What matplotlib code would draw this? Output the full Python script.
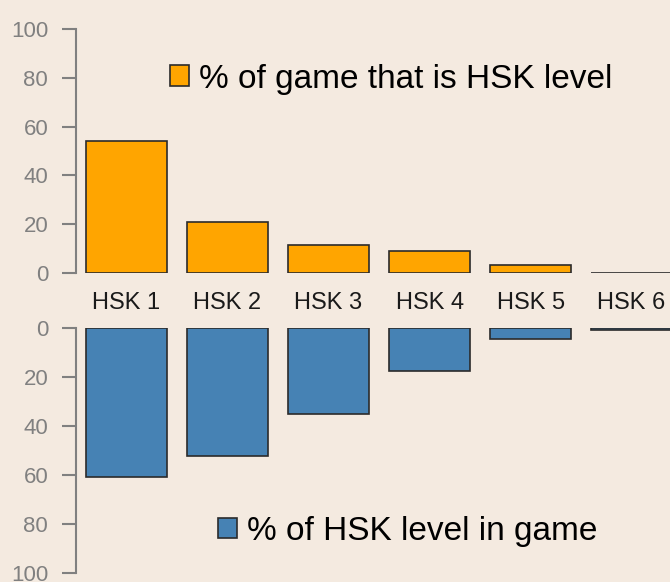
import matplotlib.pyplot as plt
from matplotlib.patches import Patch

# data
levels = ["HSK 1", "HSK 2", "HSK 3", "HSK 4", "HSK 5", "HSK 6"]
pct_of_game = [54.1, 20.9, 11.5, 9.0, 3.3, 0.15]
pct_of_level = [60.8, 52.2, 35.1, 17.6, 4.5, 0.8]

bg = "#f4eae0"
orange = "#ffa500"
blue = "#4682b4"
edge = "#2b2b2b"
grey = "#808080"

plt.rcParams['font.family'] = ['Liberation Sans', 'DejaVu Sans']

fig = plt.figure(figsize=(6.7, 5.82), dpi=100, facecolor=bg)
ax1 = fig.add_axes([0.1134, 0.5309, 0.8866, 0.4192], facecolor=bg)
ax2 = fig.add_axes([0.1134, 0.0155, 0.8866, 0.4210], facecolor=bg)

x = list(range(len(levels)))
ax1.bar(x, pct_of_game, width=0.8, color=orange, edgecolor=edge, linewidth=1.2)
ax2.bar(x, pct_of_level, width=0.8, color=blue, edgecolor=edge, linewidth=1.2)

for ax in (ax1, ax2):
    ax.set_xlim(-0.5, 5.38)
    for s in ("top", "right", "bottom"):
        ax.spines[s].set_visible(False)
    ax.spines["left"].set_color(grey)
    ax.spines["left"].set_linewidth(1.5)
    ax.set_yticks([0, 20, 40, 60, 80, 100])
    ax.tick_params(axis="y", length=10, width=1.5, color=grey, pad=10,
                   labelsize=16, labelcolor=grey)

ax1.set_ylim(0, 100)
ax2.set_ylim(100, 0)

ax1.set_xticks(x, levels)
ax1.tick_params(axis="x", length=0, pad=14, labelsize=17, labelcolor="#1a1a1a")
ax2.set_xticks([])

leg_kw = dict(loc="center left", frameon=False, fontsize=24,
              handlelength=0.58, handleheight=0.58, handletextpad=0.3,
              borderpad=0, borderaxespad=0)
ax1.legend(handles=[Patch(facecolor=orange, edgecolor=edge, linewidth=1.2)],
           labels=["% of game that is HSK level"],
           bbox_to_anchor=(0.158, 0.795), **leg_kw)
ax2.legend(handles=[Patch(facecolor=blue, edgecolor=edge, linewidth=1.2)],
           labels=["% of HSK level in game"],
           bbox_to_anchor=(0.239, 0.17), **leg_kw)

plt.savefig("out.png", dpi=100, facecolor=bg)
